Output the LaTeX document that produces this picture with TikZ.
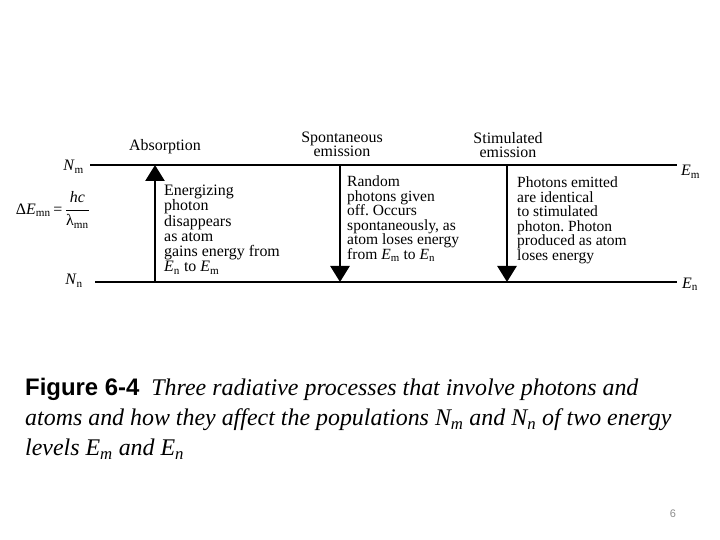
\documentclass[tikz,border=0pt]{standalone}
\usepackage{fontspec}
\setmainfont{Liberation Serif}
\newfontfamily\capsans{Liberation Sans}
\usetikzlibrary{arrows.meta}
\frenchspacing

\tikzset{
  enlevel/.style={line width=2.2bp},
  photon/.style={line width=2.7bp, -{Triangle[length=16bp,width=19bp]}},
  lvltext/.style={font=\fontsize{16}{15}\selectfont, inner sep=0pt, align=center},
  note/.style={inner sep=0pt, anchor=north west, align=left},
}

\begin{document}
\begin{tikzpicture}[x=1bp, y=-1bp]
  \useasboundingbox (0,0) rectangle (720,540);

  % Energy levels
  \begin{scope}
    \coordinate (m-left) at (90,165);
    \coordinate (m-right) at (677,165);
    \coordinate (n-left) at (95,282);
    \coordinate (n-right) at (677,282);
    \draw[enlevel] (m-left) -- (m-right);
    \draw[enlevel] (n-left) -- (n-right);

    \node[lvltext, anchor=base east] (Nm) at (84,171) {\textit{N}\textsubscript{m}};
    \node[lvltext, anchor=base east] (Nn) at (83,285) {\textit{N}\textsubscript{n}};
    \node[lvltext, anchor=base west] (Em) at (681,176) {\textit{E}\textsubscript{m}};
    \node[lvltext, anchor=base west] (En) at (682,288) {\textit{E}\textsubscript{n}};

    \node[lvltext, anchor=east] (dE) at (90,210)
      {Δ\textit{E}\textsubscript{mn}\,=\,$\displaystyle\frac{\mbox{\textit{hc}}}{\mbox{λ\textsubscript{mn}}}$};
  \end{scope}

  % Transitions
  \begin{scope}
    \foreach \nm/\x in {abs/155, spon/340, stim/507} {
      \coordinate (\nm-hi) at (\x,165);
      \coordinate (\nm-lo) at (\x,282);
    }
    \draw[photon] (abs-lo) -- (abs-hi);
    \draw[photon] (spon-hi) -- (spon-lo);
    \draw[photon] (stim-hi) -- (stim-lo);

    % base anchor sits on the last line
    \node[lvltext, anchor=base] (abs-title) at (165,151) {Absorption};
    \node[lvltext, anchor=base] (spon-title) at (342,157) {Spontaneous\\emission};
    \node[lvltext, anchor=base] (stim-title) at (508,158) {Stimulated\\emission};

    \node[note, font=\fontsize{16}{15.2}\selectfont] (abs-note) at (164,185)
      {Energizing\\photon\\disappears\\as atom\\gains energy from\\
       \textit{E}\textsubscript{n} to \textit{E}\textsubscript{m}};
    \node[note, font=\fontsize{15.6}{14.5}\selectfont] (spon-note) at (347,176)
      {Random\\photons given\\off. Occurs\\spontaneously, as\\atom loses energy\\
       from \textit{E}\textsubscript{m} to \textit{E}\textsubscript{n}};
    \node[note, font=\fontsize{15.6}{14.5}\selectfont] (stim-note) at (517,177)
      {Photons emitted\\are identical\\to stimulated\\photon. Photon\\produced as atom\\loses energy};
  \end{scope}

  % Caption
  \node[note, font=\fontsize{24}{30}\selectfont] (caption) at (25,378)
    {{\capsans\bfseries Figure 6-4}\enspace\textit{Three radiative processes that involve photons and}\\
     \textit{atoms and how they affect the populations \textit{N}\textsubscript{\textit{m}} and \textit{N}\textsubscript{\textit{n}} of two energy}\\
     \textit{levels \textit{E}\textsubscript{\textit{m}} and \textit{E}\textsubscript{\textit{n}}}};

  \node[font=\capsans\fontsize{11}{11}\selectfont, text=black!45, inner sep=0pt] (page) at (673,514) {6};
\end{tikzpicture}
\end{document}
